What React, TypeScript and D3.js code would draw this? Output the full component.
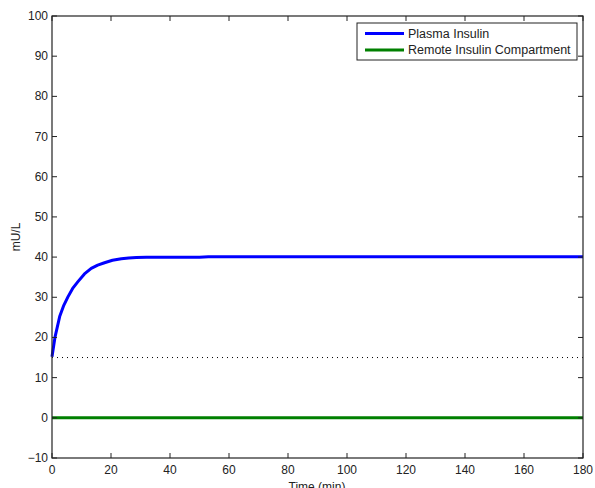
import React from "react";
import * as d3 from "d3";

const timeMin = [0, 1, 2.6, 4, 5.4, 7, 8.8, 11, 13.3, 15.5, 17.8, 20.5, 23.5, 26, 28.6, 32, 36, 40, 45, 50, 53, 55, 60, 80, 100, 120, 140, 160, 180];
const plasmaInsulin = [15.2, 20.0, 25.2, 28, 30.1, 32.2, 33.9, 35.8, 37.2, 38.0, 38.6, 39.2, 39.6, 39.8, 39.9, 39.95, 39.95, 39.95, 39.95, 39.95, 40.1, 40.1, 40.1, 40.1, 40.1, 40.1, 40.1, 40.1, 40.1];
const remoteInsulin = [0, 0, 0, 0, 0, 0, 0, 0, 0, 0, 0, 0, 0, 0, 0, 0, 0, 0, 0, 0, 0, 0, 0, 0, 0, 0, 0, 0, 0];
const thresholdLevel = [15];
const xTicks = [0, 20, 40, 60, 80, 100, 120, 140, 160, 180];
const yTicks = [-10, 0, 10, 20, 30, 40, 50, 60, 70, 80, 90, 100];
const seriesNames = ["Plasma Insulin", "Remote Insulin Compartment"];
const seriesColors = ["#0000ff", "#008000"];

export default function App() {
  const W = 595, H = 488;
  const left = 52, right = 583, top = 16, bottom = 458;
  const x = d3.scaleLinear().domain([0, 180]).range([left, right]);
  const y = d3.scaleLinear().domain([-10, 100]).range([bottom, top]);
  const line = d3.line<[number, number]>().x(d => x(d[0])).y(d => y(d[1]));
  const plasmaPath = line(timeMin.map((t, i) => [t, plasmaInsulin[i]]) as [number, number][]) || "";
  const remotePath = line(timeMin.map((t, i) => [t, remoteInsulin[i]]) as [number, number][]) || "";
  const font = "'Liberation Sans', Arial, sans-serif";
  const tl = 5;
  const axisColor = "#222";
  return (
    <svg width={W} height={H} style={{ position: "absolute", left: 0, top: 0, background: "#fff" }}>
      <rect x={0} y={0} width={W} height={H} fill="#fff" />
      {thresholdLevel.map((v, i) => (
        <line key={i} x1={x(0)} x2={x(180)} y1={y(v)} y2={y(v)} stroke="#000" strokeWidth={1} strokeDasharray="1,4" />
      ))}
      <path d={remotePath} fill="none" stroke={seriesColors[1]} strokeWidth={3} />
      <path d={plasmaPath} fill="none" stroke={seriesColors[0]} strokeWidth={3} strokeLinejoin="round" />
      <rect x={left} y={top} width={right - left} height={bottom - top} fill="none" stroke={axisColor} strokeWidth={1.2} />
      {xTicks.map(t => (
        <g key={"x" + t}>
          <line x1={x(t)} x2={x(t)} y1={bottom} y2={bottom - tl} stroke={axisColor} />
          <line x1={x(t)} x2={x(t)} y1={top} y2={top + tl} stroke={axisColor} />
          <text x={x(t)} y={bottom + 16} textAnchor="middle" fontFamily={font} fontSize={12} fill="#222">{t}</text>
        </g>
      ))}
      {yTicks.map(t => (
        <g key={"y" + t}>
          <line x1={left} x2={left + tl} y1={y(t)} y2={y(t)} stroke={axisColor} />
          <line x1={right} x2={right - tl} y1={y(t)} y2={y(t)} stroke={axisColor} />
          <text x={left - 4} y={y(t) + 4} textAnchor="end" fontFamily={font} fontSize={12} fill="#222">{t === -10 ? "\u221210" : t}</text>
        </g>
      ))}
      <text x={317} y={491} textAnchor="middle" fontFamily={font} fontSize={12} fill="#222">Time (min)</text>
      <text transform={`translate(20,237) rotate(-90)`} textAnchor="middle" fontFamily={font} fontSize={12} fill="#222">mU/L</text>
      <rect x={357} y={23} width={220} height={37} fill="#fff" stroke={axisColor} strokeWidth={1} />
      {seriesNames.map((n, i) => (
        <g key={n}>
          <line x1={365} x2={404} y1={33.5 + i * 16.5} y2={33.5 + i * 16.5} stroke={seriesColors[i]} strokeWidth={3} />
          <text x={408} y={37.5 + i * 16.5} fontFamily={font} fontSize={12.5} fill="#222">{n}</text>
        </g>
      ))}
    </svg>
  );
}
